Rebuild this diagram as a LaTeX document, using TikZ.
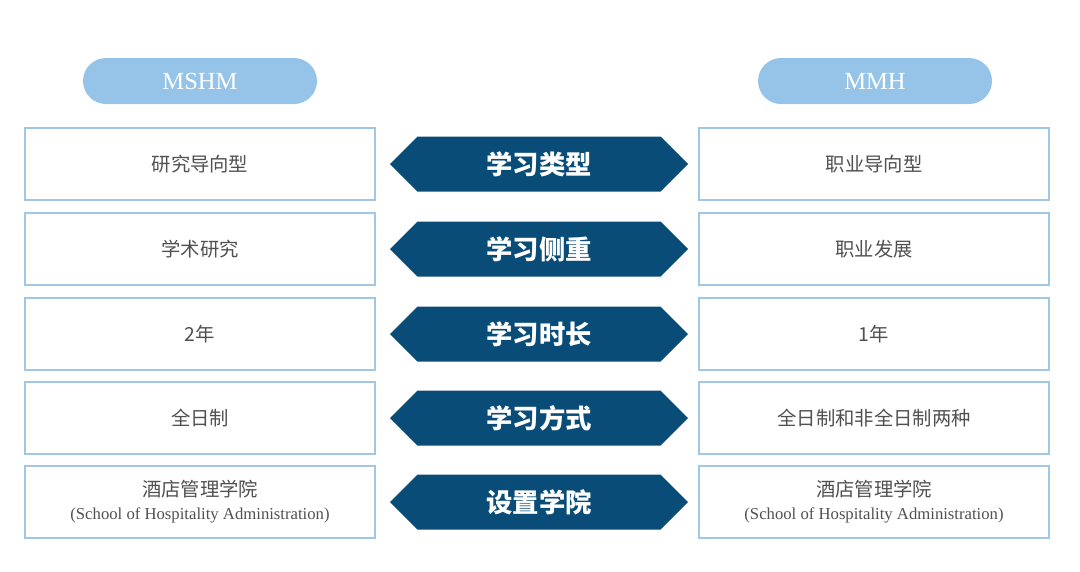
\documentclass[tikz,border=0pt]{standalone}
\usepackage{fontspec}
\setmainfont{Liberation Serif}
\newfontfamily\cjk{Noto Sans CJK SC}
\usetikzlibrary{shapes.symbols}
\definecolor{pillblue}{RGB}{150,196,232}
\definecolor{linecol}{RGB}{160,200,230}
\definecolor{darkblue}{RGB}{10,76,120}
\definecolor{txtgray}{RGB}{80,80,80}
\tikzstyle{pill} = [rectangle, rounded corners=0.46cm, minimum width=4.68cm, minimum height=0.92cm, fill=pillblue, text=white, font=\fontsize{14}{16}\selectfont]
\tikzstyle{cell} = [rectangle, draw=linecol, line width=0.8pt, minimum width=7cm, minimum height=1.44cm, text=txtgray, align=center, font=\cjk\fontsize{11}{13}\selectfont]
\tikzstyle{tag} = [signal, signal to=west and east, fill=darkblue, minimum width=5.96cm, minimum height=1.1cm, inner sep=0pt, text=white, font=\cjk\bfseries\fontsize{15}{17}\selectfont]
\begin{document}
\begin{tikzpicture}
\useasboundingbox (0,0) rectangle (21.6,-11.42);
\node [pill] at (4,-1.62) (mshm) {MSHM};
\node [pill] at (17.5,-1.62) (mmh) {MMH};

\node [cell] at (4,-3.28) (l1) {研究导向型};
\node [tag] at (10.78,-3.28) (t1) {学习类型};
\node [cell] at (17.48,-3.28) (r1) {职业导向型};

\node [cell] at (4,-4.98) (l2) {学术研究};
\node [tag] at (10.78,-4.98) (t2) {学习侧重};
\node [cell] at (17.48,-4.98) (r2) {职业发展};

\node [cell] at (4,-6.68) (l3) {2年};
\node [tag] at (10.78,-6.68) (t3) {学习时长};
\node [cell] at (17.48,-6.68) (r3) {1年};

\node [cell] at (4,-8.36) (l4) {全日制};
\node [tag] at (10.78,-8.36) (t4) {学习方式};
\node [cell] at (17.48,-8.36) (r4) {全日制和非全日制两种};

\node [cell] at (4,-10.04) (l5) {酒店管理学院\\{\rmfamily\fontsize{9.5}{12}\selectfont (School of Hospitality Administration)}};
\node [tag] at (10.78,-10.04) (t5) {设置学院};
\node [cell] at (17.48,-10.04) (r5) {酒店管理学院\\{\rmfamily\fontsize{9.5}{12}\selectfont (School of Hospitality Administration)}};
\end{tikzpicture}
\end{document}
